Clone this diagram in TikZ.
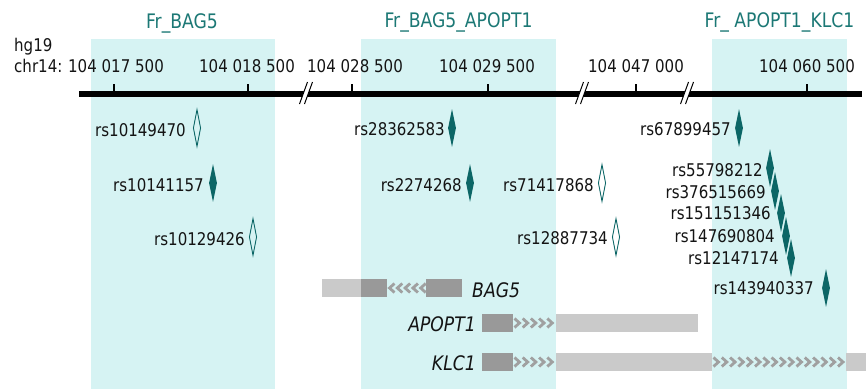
\documentclass[tikz,border=0pt]{standalone}
\usepackage{fontspec}
\setmainfont{DejaVu Sans}[FakeStretch=0.86]
\usetikzlibrary{shapes.geometric}

\definecolor{shade}{RGB}{214,243,243}
\definecolor{titlecol}{RGB}{28,120,117}
\definecolor{snpcol}{RGB}{12,102,102}
\definecolor{ink}{RGB}{20,20,20}
\definecolor{utr}{RGB}{202,202,202}
\definecolor{cds}{RGB}{153,153,153}
\definecolor{chevcol}{RGB}{160,160,160}

\begin{document}
\begin{tikzpicture}[x=1pt,y=-1pt,
  region/.style={fill=shade,draw=none},
  ftitle/.style={text=titlecol,font=\fontsize{20}{24}\selectfont,anchor=base,inner sep=0},
  poslab/.style={text=ink,font=\fontsize{17.5}{21}\selectfont,anchor=base,inner sep=0},
  snplab/.style={text=ink,font=\fontsize{17.5}{21}\selectfont,anchor=east,inner sep=0},
  genelab/.style={text=ink,font=\fontsize{20}{24}\selectfont\itshape,inner sep=0},
  snpfill/.style={diamond,aspect=0.2,inner sep=0,minimum width=8pt,minimum height=38pt,fill=snpcol,draw=none},
  snpopen/.style={diamond,aspect=0.2,inner sep=0,minimum width=7.5pt,minimum height=37pt,draw=snpcol,line width=0.9pt},
  axisline/.style={line width=6pt,black},
  tickline/.style={line width=1.1pt,black},
  breakline/.style={line width=1pt,black},
  utrbar/.style={fill=utr},
  cdsbar/.style={fill=cds},
  chev/.style={draw=chevcol,line width=2.8pt,miter limit=4},
]
\useasboundingbox (0,0) rectangle (866,389);

% fragment regions
\fill[region] (91,39) rectangle (275,389);
\fill[region] (361,39) rectangle (556,389);
\fill[region] (712,39) rectangle (847,389);

\node[ftitle] (fr1) at (182,28) {Fr\_BAG5};
\node[ftitle] (fr2) at (458.5,27) {Fr\_BAG5\_APOPT1};
\node[ftitle] (fr3) at (779.5,27) {Fr\_ APOPT1\_KLC1};

% assembly and chromosome
\node[poslab,anchor=base west] (hg) at (14,51) {hg19};
\node[poslab,anchor=base west] (chr) at (14,72.7) {chr14:};

% coordinate axis
\coordinate (axL) at (79,93.5);
\coordinate (axR) at (862,93.5);
\draw[axisline] (axL) -- (axR);

\foreach \n/\tx/\lx/\lab in {1/114/116/104 017 500, 2/248/247/104 018 500,
    3/352/355/104 028 500, 4/488/487/104 029 500,
    5/636/636/104 047 000, 6/807/807/104 060 500}{
  \coordinate (tk\n) at (\tx,93);
  \draw[tickline] (tk\n) -- ++(0,-9.5);
  \node[poslab] (tl\n) at (\lx,72.7) {\lab};
}

% axis breaks
\foreach \n/\bx in {1/306,2/582,3/687}{
  \coordinate (bkA\n) at (\bx-6.5,104);
  \coordinate (bkB\n) at (\bx+1.5,82);
  \coordinate (bkC\n) at (\bx-1.5,104);
  \coordinate (bkD\n) at (\bx+6.5,82);
  \fill[white] (bkA\n) -- (bkB\n) -- (bkD\n) -- (bkC\n) -- cycle;
  \draw[breakline] (bkA\n) -- (bkB\n);
  \draw[breakline] (bkC\n) -- (bkD\n);
}

% SNPs
\node[snpopen] (s1) at (197,128) {};
\node[snplab] (l1) at (186,130) {rs10149470};
\node[snpfill] (s2) at (213,183) {};
\node[snplab] (l2) at (204,185) {rs10141157};
\node[snpopen] (s3) at (253,237) {};
\node[snplab] (l3) at (245,239) {rs10129426};

\node[snpfill] (s4) at (452,128) {};
\node[snplab] (l4) at (445,129) {rs28362583};
\node[snpfill] (s5) at (470,183) {};
\node[snplab] (l5) at (462,185) {rs2274268};
\node[snpopen] (s6) at (602,183) {};
\node[snplab] (l6) at (594,185) {rs71417868};
\node[snpopen] (s7) at (616,237) {};
\node[snplab] (l7) at (608,238) {rs12887734};

\node[snpfill] (s8) at (739,128) {};
\node[snplab] (l8) at (731,129) {rs67899457};
\node[snpfill] (s9) at (770,168) {};
\node[snpfill] (s10) at (775,191) {};
\node[snpfill] (s11) at (781,213) {};
\node[snpfill] (s12) at (786,236) {};
\node[snpfill] (s13) at (791,258) {};
\node[snplab] (l9) at (763,170) {rs55798212};
\node[snplab] (l10) at (766,192) {rs376515669};
\node[snplab] (l11) at (771,213) {rs151151346};
\node[snplab] (l12) at (775,236) {rs147690804};
\node[snplab] (l13) at (779,258) {rs12147174};
\node[snpfill] (s14) at (826,288) {};
\node[snplab] (l14) at (814,288) {rs143940337};

% BAG5 (minus strand)
\fill[utrbar] (322,279) rectangle (361,297);
\fill[cdsbar] (361,279) rectangle (387,297);
\fill[cdsbar] (426,279) rectangle (462,297);
\foreach \i in {0,...,4}{
  \draw[chev] ({394.5+\i*7.8},283.5) -- ({389.5+\i*7.8},288) -- ({394.5+\i*7.8},292.5);
}
\node[genelab,anchor=base west] (g1) at (472,297) {BAG5};

% APOPT1 (plus strand)
\fill[cdsbar] (482,314) rectangle (513,332);
\foreach \i in {0,...,4}{
  \draw[chev] ({514.5+\i*8.2},318.5) -- ({519.5+\i*8.2},323) -- ({514.5+\i*8.2},327.5);
}
\fill[utrbar] (556,314) rectangle (698,332);
\node[genelab,anchor=base east] (g2) at (476,331.5) {APOPT1};

% KLC1 (plus strand)
\fill[cdsbar] (482,353) rectangle (513,371);
\foreach \i in {0,...,4}{
  \draw[chev] ({514.5+\i*8.2},357.5) -- ({519.5+\i*8.2},362) -- ({514.5+\i*8.2},366.5);
}
\fill[utrbar] (556,353) rectangle (712,371);
\foreach \i in {0,...,15}{
  \draw[chev] ({713.5+\i*8.3},357.5) -- ({718.5+\i*8.3},362) -- ({713.5+\i*8.3},366.5);
}
\fill[utrbar] (846,353) rectangle (866,371);
\node[genelab,anchor=base east] (g3) at (476,370.5) {KLC1};
\end{tikzpicture}
\end{document}
